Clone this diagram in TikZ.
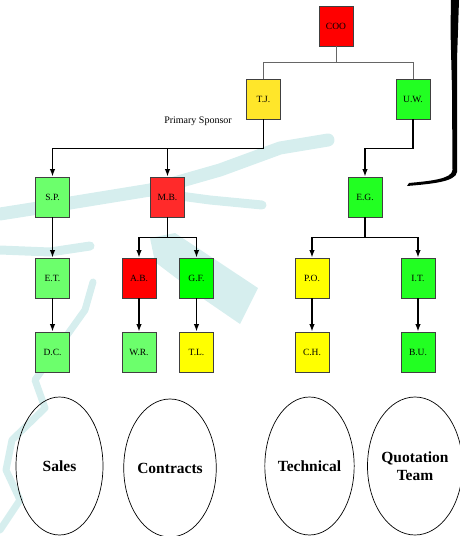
\documentclass[tikz,border=0pt]{standalone}
\usepackage{fontspec}
\setmainfont{Liberation Serif}
\usetikzlibrary{shapes.geometric,arrows.meta}

\definecolor{cooRed}{RGB}{255,0,0}
\definecolor{sponsorYellow}{RGB}{255,230,42}
\definecolor{brightGreen}{RGB}{34,255,34}
\definecolor{softGreen}{RGB}{108,255,108}
\definecolor{mbRed}{RGB}{255,42,42}
\definecolor{pureGreen}{RGB}{0,255,0}
\definecolor{pureYellow}{RGB}{255,255,0}
\definecolor{wmCyan}{RGB}{214,238,238}

\tikzset{
  person/.style={draw=black!75, line width=0.8pt, minimum width=34pt,
    minimum height=40pt, inner sep=0pt, font=\fontsize{9.5}{11}\selectfont},
  team/.style={ellipse, draw, line width=0.7pt, minimum width=87pt,
    minimum height=138pt, inner sep=0pt, align=center,
    font=\fontsize{15.5}{18}\selectfont\bfseries},
  link/.style={line width=1.8pt, -{Latex[length=7.5pt,width=5.5pt]}},
  toplink/.style={line width=0.9pt, draw=black!60},
  wm/.style={draw=wmCyan, line width=#1, line join=round, line cap=round},
}

\begin{document}
\begin{tikzpicture}[x=1pt,y=-1pt]
\useasboundingbox (0,0) rectangle (459,536);

% faint background emblem
\draw[wm=13pt] (0,214) -- (70,203) -- (150,190) -- (220,170) -- (280,148) -- (328,140);
\draw[wm=9pt] (150,192) -- (210,200) -- (262,205);
\draw[wm=9pt] (0,250) -- (50,252) -- (90,246);
\fill[wmCyan] (150,238) -- (175,233) -- (258,288) -- (240,324) -- (205,300) -- (155,262) -- cycle;
\draw[wm=7pt] (93,282) -- (85,310) -- (60,345) -- (35,380) -- (45,408) -- (12,440)
  -- (6,470) -- (20,500) -- (0,530);

% brush stroke on the right edge
\fill[black] (451,0) -- (459,0) -- (457,60) -- (457,172) .. controls (456,182) and (430,184) .. (407,186)
  -- (409,183) .. controls (430,181) and (452,179) .. (452.5,170) -- (452,90) -- (450.5,30) -- cycle;

% people
\node[person, fill=cooRed]        (coo) at (336,26)    {COO};
\node[person, fill=sponsorYellow] (tj)  at (263.5,99)  {T.J.};
\node[person, fill=brightGreen]   (uw)  at (413,99)    {U.W.};
\node[person, fill=softGreen]     (sp)  at (52.5,197)  {S.P.};
\node[person, fill=mbRed]         (mb)  at (167.5,197) {M.B.};
\node[person, fill=brightGreen]   (eg)  at (365,197)   {E.G.};
\node[person, fill=softGreen]     (et)  at (52.5,278)  {E.T.};
\node[person, fill=cooRed]        (ab)  at (139,278)   {A.B.};
\node[person, fill=pureGreen]     (gf)  at (196.5,278) {G.F.};
\node[person, fill=pureYellow]    (po)  at (312,278)   {P.O.};
\node[person, fill=brightGreen]   (it)  at (418,278)   {I.T.};
\node[person, fill=softGreen]     (dc)  at (52.5,352)  {D.C.};
\node[person, fill=softGreen]     (wr)  at (139,352)   {W.R.};
\node[person, fill=pureYellow]    (tl)  at (196.5,352) {T.L.};
\node[person, fill=pureYellow]    (ch)  at (312,352)   {C.H.};
\node[person, fill=brightGreen]   (bu)  at (418,352)   {B.U.};

\node[font=\fontsize{10}{12}\selectfont] (sponsor) at (198,121) {Primary Sponsor};

% reporting lines
\draw[toplink] (coo.south) -- ++(0,16) -| (tj.north);
\draw[toplink] (coo.south) -- ++(0,16) -| (uw.north);
\draw[link] (tj.south) -- ++(0,29) -| (sp.north);
\draw[link] (tj.south) -- ++(0,29) -| (mb.north);
\draw[link] (uw.south) -- ++(0,29) -| (eg.north);
\draw[link] (mb.south) -- ++(0,20) -| (ab.north);
\draw[link] (mb.south) -- ++(0,20) -| (gf.north);
\draw[link] (eg.south) -- ++(0,20) -| (po.north);
\draw[link] (eg.south) -- ++(0,20) -| (it.north);
\draw[link] (sp) -- (et);
\draw[link] (et) -- (dc);
\draw[link] (ab) -- (wr);
\draw[link] (gf) -- (tl);
\draw[link] (po) -- (ch);
\draw[link] (it) -- (bu);

% teams
\node[team] (sales)     at (59.5,466) {Sales};
\node[team] (contracts) at (170,468)  {Contracts};
\node[team] (technical) at (309.5,466) {Technical};
\node[team] (quotation) at (415,466)  {Quotation\\Team};
\end{tikzpicture}
\end{document}
